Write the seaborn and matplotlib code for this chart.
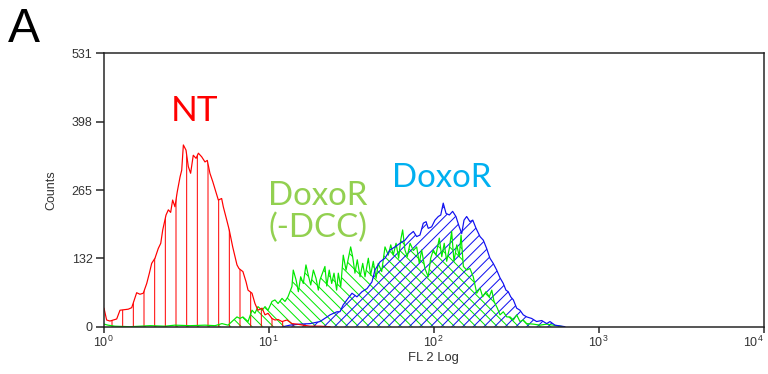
#!/usr/bin/env python3
import numpy as np
import pandas as pd
import matplotlib
matplotlib.use("Agg")
import matplotlib.pyplot as plt
import seaborn as sns
from matplotlib.ticker import NullLocator, FixedLocator

# FL2 position in decades (log10 of intensity) and counts
nt_decade = [0.003, 0.019, 0.039, 0.080, 0.100, 0.150, 0.171, 0.201, 0.221, 0.241,
             0.262, 0.278, 0.292, 0.312, 0.332, 0.347, 0.359, 0.379, 0.393, 0.407,
             0.419, 0.433, 0.447, 0.464, 0.474, 0.484, 0.500, 0.514, 0.528, 0.544,
             0.561, 0.575, 0.595, 0.615, 0.629, 0.645, 0.662, 0.678, 0.696, 0.716,
             0.726, 0.747, 0.762, 0.783, 0.809, 0.821, 0.845, 0.864, 0.876, 0.900,
             0.918, 0.936, 0.961, 0.979, 0.997, 1.021, 1.039, 1.058, 1.082, 1.112,
             1.142, 1.173, 1.209, 1.252, 1.312, 1.373]
nt_counts = [36, 13, 11, 15, 32, 34, 37, 66, 63, 65,
             84, 104, 123, 133, 152, 162, 188, 217, 227, 222,
             246, 233, 262, 291, 304, 353, 343, 311, 298, 333,
             327, 337, 330, 320, 323, 298, 282, 265, 246, 249,
             233, 207, 188, 155, 120, 113, 107, 87, 71, 65,
             45, 32, 36, 23, 26, 16, 13, 14, 10, 13,
             6, 5, 3, 1, 1, 0]

dcc_decade = [0.003, 0.027, 0.070, 0.161, 0.282, 0.373, 0.433, 0.524, 0.615, 0.676,
              0.718, 0.755, 0.785, 0.809, 0.827, 0.845, 0.876, 0.900, 0.918, 0.936,
              0.961, 0.979, 0.997, 1.021, 1.039, 1.058, 1.082, 1.100, 1.118, 1.142,
              1.150, 1.167, 1.181, 1.195, 1.211, 1.227, 1.241, 1.256, 1.272, 1.288,
              1.302, 1.312, 1.342, 1.353, 1.368, 1.383, 1.397, 1.413, 1.423, 1.438,
              1.453, 1.470, 1.484, 1.498, 1.510, 1.524, 1.538, 1.555, 1.571, 1.585,
              1.605, 1.619, 1.635, 1.652, 1.665, 1.686, 1.706, 1.726, 1.741, 1.756,
              1.773, 1.789, 1.801, 1.813, 1.827, 1.841, 1.858, 1.878, 1.898, 1.914,
              1.928, 1.948, 1.968, 1.983, 1.999, 2.015, 2.035, 2.050, 2.065, 2.080,
              2.096, 2.110, 2.124, 2.141, 2.156, 2.167, 2.181, 2.201, 2.221, 2.241,
              2.262, 2.282, 2.298, 2.318, 2.338, 2.353, 2.367, 2.387, 2.403, 2.423,
              2.444, 2.464, 2.484, 2.504, 2.524, 2.544, 2.565, 2.605, 2.645, 2.686,
              2.726, 2.767, 2.787]
dcc_counts = [5, 3, 1, 0, 2, 1, 3, 2, 3, 2,
              6, 3, 12, 19, 16, 19, 10, 32, 26, 39,
              32, 39, 32, 49, 52, 45, 55, 49, 58, 78,
              110, 91, 68, 97, 84, 120, 100, 81, 110, 94,
              71, 91, 117, 79, 110, 84, 104, 71, 104, 78,
              139, 110, 133, 155, 136, 104, 130, 97, 123, 97,
              133, 100, 127, 94, 123, 107, 155, 139, 159, 139,
              162, 133, 168, 188, 149, 136, 162, 148, 155, 123,
              149, 113, 97, 133, 149, 139, 172, 136, 162, 127,
              152, 185, 127, 159, 136, 178, 117, 110, 113, 97,
              65, 75, 58, 68, 58, 71, 49, 36, 23, 29,
              19, 19, 13, 23, 10, 13, 6, 5, 3, 5,
              3, 1, 0]

doxo_decade = [1.088, 1.130, 1.191, 1.252, 1.312, 1.355, 1.373, 1.415, 1.433, 1.452,
               1.482, 1.506, 1.536, 1.567, 1.597, 1.627, 1.645, 1.676, 1.706, 1.736,
               1.767, 1.797, 1.827, 1.852, 1.878, 1.898, 1.918, 1.938, 1.955, 1.968,
               1.989, 2.009, 2.029, 2.044, 2.059, 2.076, 2.096, 2.116, 2.136, 2.156,
               2.171, 2.185, 2.201, 2.221, 2.238, 2.258, 2.282, 2.302, 2.322, 2.342,
               2.362, 2.383, 2.403, 2.423, 2.439, 2.453, 2.468, 2.484, 2.504, 2.524,
               2.544, 2.565, 2.595, 2.625, 2.656, 2.686, 2.706, 2.736, 2.777, 2.797]
doxo_counts = [0, 3, 5, 6, 10, 19, 23, 29, 29, 42,
               55, 65, 58, 68, 74, 87, 110, 126, 133, 149,
               155, 162, 168, 178, 185, 175, 178, 201, 204, 191,
               194, 207, 214, 217, 240, 220, 217, 224, 214, 194,
               181, 207, 214, 204, 207, 191, 175, 168, 152, 133,
               123, 110, 95, 84, 71, 68, 58, 52, 36, 32,
               23, 19, 16, 10, 12, 6, 10, 3, 1, 0]

y_ticks = [0, 132.75, 265.5, 398.25, 531]
y_tick_labels = ["0", "132", "265", "398", "531"]
x_ticks = [1, 10, 100, 1000, 10000]

DPI = 64


def px(n):
    # pixel size -> points at this dpi
    return n * 72.0 / DPI


sns.set_style("white")
plt.rcParams['font.family'] = ['Liberation Sans', 'DejaVu Sans']
plt.rcParams['hatch.linewidth'] = px(1.0)

fig, ax = plt.subplots(figsize=(768 / DPI, 374 / DPI), dpi=DPI)
fig.subplots_adjust(left=103.5 / 768, right=763.5 / 768,
                    bottom=1 - 326.7 / 374, top=1 - 53.3 / 374)

series = [
    ("DoxoR (-DCC)", dcc_decade, dcc_counts, "#00e800", "\\\\"),
    ("DoxoR", doxo_decade, doxo_counts, "#1010f0", "//"),
    ("NT", nt_decade, nt_counts, "#ff0000", "|"),
]

for name, dec, cnt, color, hatch in series:
    df = pd.DataFrame({"fl2": 10 ** np.array(dec), "counts": cnt})
    ax.fill_between(df["fl2"], 0, df["counts"], facecolor="none",
                    edgecolor=color, hatch=hatch, linewidth=0)
    sns.lineplot(data=df, x="fl2", y="counts", ax=ax, color=color,
                 linewidth=px(1.2), sort=False, estimator=None)

ax.set_xscale("log")
ax.set_xlim(1, 10000)
ax.set_ylim(0, 531)
ax.xaxis.set_major_locator(FixedLocator(x_ticks))
ax.xaxis.set_minor_locator(NullLocator())
ax.set_yticks(y_ticks)
ax.set_yticklabels(y_tick_labels)

for s in ax.spines.values():
    s.set_visible(True)
    s.set_color("#222222")
    s.set_linewidth(px(1.5))

ax.tick_params(axis="y", direction="out", length=px(8), width=px(1.5),
               color="#222222", pad=px(3), labelsize=px(12.5), labelcolor="#333333",
               left=True)
ax.tick_params(axis="x", direction="out", length=px(6), width=px(1.5),
               color="#222222", pad=px(2), labelsize=px(12.5), labelcolor="#333333",
               bottom=True)

# last decade label sits inside the frame
fig.canvas.draw()
last = ax.get_xticklabels()[-1]
last.set_horizontalalignment("right")

ax.set_xlabel("FL 2 Log", fontsize=px(13), color="#333333", labelpad=px(2))
ax.set_ylabel("Counts", fontsize=px(12.5), color="#333333", labelpad=px(14))

# panel letter and curve labels
fig.text(24 / 768, 1 - 30 / 374, "A", fontsize=px(48), ha="center", va="center",
         color="black")
label_font = ['Lato', 'DejaVu Sans']
fig.text(195 / 768, 1 - 111 / 374, "NT", fontsize=px(35), color="#ff0000",
         ha="center", va="center", family=label_font)
fig.text(442 / 768, 1 - 178 / 374, "DoxoR", fontsize=px(33), color="#00b0f0",
         ha="center", va="center", family=label_font)
fig.text(318 / 768, 1 - 212 / 374, "DoxoR\n(-DCC)", fontsize=px(33),
         color="#92d050", ha="center", va="center", linespacing=1.1,
         family=label_font)

fig.savefig("out.png", dpi=DPI)
